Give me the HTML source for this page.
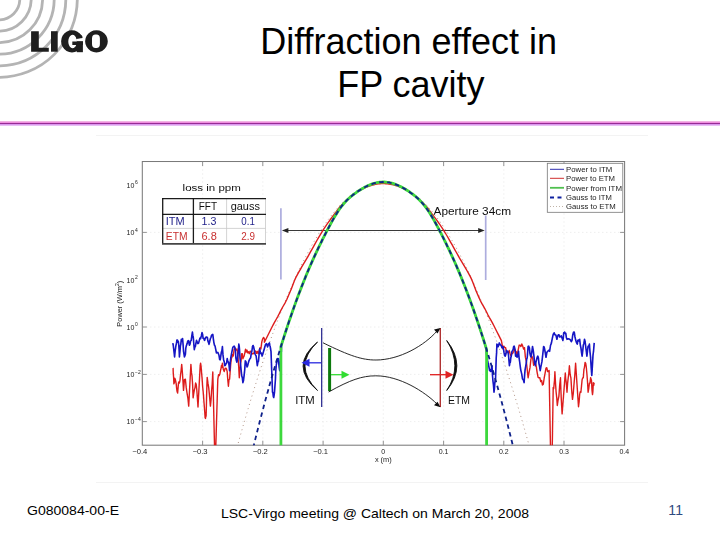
<!DOCTYPE html>
<html><head><meta charset="utf-8">
<style>
html,body{margin:0;padding:0;background:#fff;}
body{width:720px;height:540px;position:relative;overflow:hidden;font-family:"Liberation Sans",sans-serif;}
</style></head><body>
<svg width="720" height="540" viewBox="0 0 720 540" style="position:absolute;left:0;top:0;display:block"><circle cx="-1" cy="-1" r="20.8" fill="none" stroke="#b4b4b4" stroke-width="2.8"/><circle cx="-1" cy="-1" r="32.2" fill="none" stroke="#b4b4b4" stroke-width="2.8"/><circle cx="-1" cy="-1" r="43.6" fill="none" stroke="#b4b4b4" stroke-width="2.8"/><circle cx="-1" cy="-1" r="55.2" fill="none" stroke="#b4b4b4" stroke-width="2.8"/><circle cx="-1" cy="-1" r="66.8" fill="none" stroke="#b4b4b4" stroke-width="2.8"/><circle cx="-1" cy="-1" r="78.3" fill="none" stroke="#b4b4b4" stroke-width="2.8"/><g fill="#1e1e1e"><path d="M31.1,31.2 H38.8 V47.8 H48.8 V51.7 H31.1 Z"/><rect x="51" y="31.2" width="6.7" height="20.5"/><path fill-rule="evenodd" d="M72,30.2 a10.9,11.1 0 1,0 0.001,0 Z M72.6,34.8 a4.3,6.7 0 1,0 0.001,0 Z"/></g><polygon points="76.3,38.7 90,37.2 90,41.5 76.3,41.5" fill="#fff"/><polygon points="78.5,33 81.8,35.4 82.8,37.6 76.3,38.8 75.5,35.5" fill="#1e1e1e"/><rect x="72.3" y="41.5" width="10.6" height="3.5" fill="#1e1e1e"/><rect x="76.8" y="41.5" width="6.1" height="10.7" fill="#1e1e1e"/><path fill="#1e1e1e" fill-rule="evenodd" d="M96.45,30.2 a11.35,11.1 0 1,0 0.001,0 Z M95.5,34.6 h0.9 a3.5,4 0 0,1 3.5,4 v5.4 a3.5,4 0 0,1 -3.5,4 h-0.9 a3.5,4 0 0,1 -3.5,-4 v-5.4 a3.5,4 0 0,1 3.5,-4 Z"/><text x="260.2" y="53.6" font-family="'Liberation Sans', sans-serif" font-size="36" fill="#000">Diffraction effect in</text><text x="337.2" y="96.6" font-family="'Liberation Sans', sans-serif" font-size="36" fill="#000">FP cavity</text><rect x="0" y="121" width="720" height="1" fill="#f2b4e4"/><rect x="0" y="122" width="720" height="1" fill="#ee8ede"/><rect x="0" y="123" width="720" height="1" fill="#962c94"/><rect x="0" y="124" width="720" height="1" fill="#da98ee"/><rect x="0" y="125" width="720" height="1" fill="#e8c0f4"/><rect x="96" y="135" width="552" height="1" fill="#f3f3f3"/><rect x="96" y="482" width="552" height="1" fill="#f3f3f3"/><defs><filter id="soft" x="0" y="0" width="1" height="1"><feGaussianBlur stdDeviation="0.3"/></filter></defs><g id="chart" filter="url(#soft)"><defs><clipPath id="axclip"><rect x="142.3" y="161.5" width="482.3" height="283.7"/></clipPath></defs><g stroke="#dcdcdc" stroke-width="0.7" stroke-dasharray="1 3"><line x1="202.6" y1="161.5" x2="202.6" y2="445.2"/><line x1="262.8" y1="161.5" x2="262.8" y2="445.2"/><line x1="323.1" y1="161.5" x2="323.1" y2="445.2"/><line x1="383.3" y1="161.5" x2="383.3" y2="445.2"/><line x1="443.6" y1="161.5" x2="443.6" y2="445.2"/><line x1="503.8" y1="161.5" x2="503.8" y2="445.2"/><line x1="564.0" y1="161.5" x2="564.0" y2="445.2"/><line x1="142.3" y1="232.4" x2="624.6" y2="232.4"/><line x1="142.3" y1="327.0" x2="624.6" y2="327.0"/><line x1="142.3" y1="374.4" x2="624.6" y2="374.4"/><line x1="142.3" y1="421.6" x2="624.6" y2="421.6"/></g><rect x="142.3" y="161.5" width="482.3" height="283.7" fill="none" stroke="#7a7a7a" stroke-width="1.05"/><g stroke="#888" stroke-width="0.9"><line x1="202.6" y1="445.2" x2="202.6" y2="440.7"/><line x1="202.6" y1="161.5" x2="202.6" y2="166.0"/><line x1="262.8" y1="445.2" x2="262.8" y2="440.7"/><line x1="262.8" y1="161.5" x2="262.8" y2="166.0"/><line x1="323.1" y1="445.2" x2="323.1" y2="440.7"/><line x1="323.1" y1="161.5" x2="323.1" y2="166.0"/><line x1="383.3" y1="445.2" x2="383.3" y2="440.7"/><line x1="383.3" y1="161.5" x2="383.3" y2="166.0"/><line x1="443.6" y1="445.2" x2="443.6" y2="440.7"/><line x1="443.6" y1="161.5" x2="443.6" y2="166.0"/><line x1="503.8" y1="445.2" x2="503.8" y2="440.7"/><line x1="503.8" y1="161.5" x2="503.8" y2="166.0"/><line x1="564.0" y1="445.2" x2="564.0" y2="440.7"/><line x1="564.0" y1="161.5" x2="564.0" y2="166.0"/><line x1="142.3" y1="232.4" x2="146.8" y2="232.4"/><line x1="624.6" y1="232.4" x2="620.1" y2="232.4"/><line x1="142.3" y1="327.0" x2="146.8" y2="327.0"/><line x1="624.6" y1="327.0" x2="620.1" y2="327.0"/><line x1="142.3" y1="374.4" x2="146.8" y2="374.4"/><line x1="624.6" y1="374.4" x2="620.1" y2="374.4"/><line x1="142.3" y1="421.6" x2="146.8" y2="421.6"/><line x1="624.6" y1="421.6" x2="620.1" y2="421.6"/></g><g font-family="'Liberation Sans', sans-serif" font-size="7" fill="#222"><text x="147.3" y="453.8" text-anchor="end" textLength="15" lengthAdjust="spacingAndGlyphs">−0.4</text><text x="207.6" y="453.8" text-anchor="end" textLength="15" lengthAdjust="spacingAndGlyphs">−0.3</text><text x="267.8" y="453.8" text-anchor="end" textLength="15" lengthAdjust="spacingAndGlyphs">−0.2</text><text x="328.1" y="453.8" text-anchor="end" textLength="15" lengthAdjust="spacingAndGlyphs">−0.1</text><text x="383.3" y="453.8" text-anchor="middle">0</text><text x="443.6" y="453.8" text-anchor="middle">0.1</text><text x="503.8" y="453.8" text-anchor="middle">0.2</text><text x="564.0" y="453.8" text-anchor="middle">0.3</text><text x="624.3" y="453.8" text-anchor="middle">0.4</text><text x="126.6" y="188.0">10</text><text x="135" y="184.2" font-size="5">6</text><text x="126.6" y="235.2">10</text><text x="135" y="231.5" font-size="5">4</text><text x="126.6" y="282.6">10</text><text x="135" y="278.9" font-size="5">2</text><text x="126.6" y="329.8">10</text><text x="135" y="326.1" font-size="5">0</text><text x="126.6" y="377.2">10</text><text x="135" y="373.5" font-size="5">−2</text><text x="126.6" y="424.4">10</text><text x="135" y="420.8" font-size="5">−4</text></g><text x="383.3" y="461.8" text-anchor="middle" font-family="'Liberation Sans', sans-serif" font-size="7.4" fill="#222">x (m)</text><text transform="translate(122,303.7) rotate(-90)" text-anchor="middle" font-family="'Liberation Sans', sans-serif" font-size="7.4" fill="#222">Power (W/m<tspan font-size="5" dy="-3">2</tspan><tspan dy="3">)</tspan></text><g stroke="#adadde" stroke-width="1.7"><line x1="280.9" y1="208.3" x2="280.9" y2="279.6"/><line x1="485.7" y1="215.5" x2="485.7" y2="280"/></g><g fill="#222"><line x1="283.9" y1="230.5" x2="482.7" y2="230.5" stroke="#222" stroke-width="0.9"/><path d="M281.9,230.5 l6.5,-2.6 l0,5.2 z"/><path d="M484.7,230.5 l-6.5,-2.6 l0,5.2 z"/></g><text x="433.5" y="214.9" font-family="'Liberation Sans', sans-serif" font-size="11" fill="#111" textLength="77.5" lengthAdjust="spacingAndGlyphs">Aperture 34cm</text><polyline clip-path="url(#axclip)" points="237.1,447.2 238.1,443.6 239.1,440.0 240.1,436.4 241.1,432.9 242.1,429.4 243.1,425.9 244.1,422.4 245.1,419.0 246.1,415.6 247.1,412.2 248.1,408.8 249.1,405.5 250.1,402.1 251.1,398.9 252.1,395.6 253.1,392.3 254.1,389.1 255.1,385.9 256.1,382.8 257.1,379.6 258.1,376.5 259.1,373.4 260.1,370.3 261.1,367.3 262.1,364.3 263.1,361.3 264.1,358.3 265.1,355.4 266.1,352.5 267.1,349.6 268.1,346.7 269.1,343.8 270.1,341.0 271.1,338.2 272.1,335.5 273.1,332.7 274.1,330.0 275.1,327.3 276.1,324.6 277.1,322.0 278.1,319.3 279.1,316.7 280.1,314.2 281.1,311.6 282.1,309.1 283.1,306.6 284.1,304.1 285.1,301.7 286.1,299.3 287.1,296.9 288.1,294.5 289.1,292.1 290.1,289.8 291.1,287.5 292.1,285.2 293.1,283.0 294.1,280.8 295.1,278.6 296.1,276.4 297.1,274.2 298.1,272.1 299.1,270.0 300.1,267.9 301.1,265.9 302.1,263.8 303.1,261.8 304.1,259.9 305.1,257.9 306.1,256.0 307.1,254.1 308.1,252.2 309.1,250.3 310.1,248.5 311.1,246.7 312.1,244.9 313.1,243.2 314.1,241.5 315.1,239.7 316.1,238.1 317.1,236.4 318.1,234.8 319.1,233.2 320.1,231.6 321.1,230.0 322.1,228.5 323.1,227.0 324.1,225.5 325.1,224.1 326.1,222.6 327.1,221.2 328.1,219.8 329.1,218.5 330.1,217.2 331.1,215.8 332.1,214.6 333.1,213.3 334.1,212.1 335.1,210.9 336.1,209.7 337.1,208.5 338.1,207.4 339.1,206.3 340.1,205.2 341.1,204.1 342.1,203.1 343.1,202.1 344.1,201.1 345.1,200.1 346.1,199.2 347.1,198.3 348.1,197.4 349.1,196.5 350.1,195.7 351.1,194.9 352.1,194.1 353.1,193.3 354.1,192.6 355.1,191.9 356.1,191.2 357.1,190.5 358.1,189.9 359.1,189.3 360.1,188.7 361.1,188.1 362.1,187.6 363.1,187.1 364.1,186.6 365.1,186.1 366.1,185.7 367.1,185.3 368.1,184.9 369.1,184.5 370.1,184.2 371.1,183.9 372.1,183.6 373.1,183.3 374.1,183.1 375.1,182.8 376.1,182.7 377.1,182.5 378.1,182.3 379.1,182.2 380.1,182.1 381.1,182.1 382.1,182.0 383.1,182.0 384.1,182.0 385.1,182.0 386.1,182.1 387.1,182.2 388.1,182.3 389.1,182.4 390.1,182.6 391.1,182.7 392.1,183.0 393.1,183.2 394.1,183.4 395.1,183.7 396.1,184.0 397.1,184.3 398.1,184.7 399.1,185.1 400.1,185.5 401.1,185.9 402.1,186.4 403.1,186.8 404.1,187.3 405.1,187.9 406.1,188.4 407.1,189.0 408.1,189.6 409.1,190.2 410.1,190.9 411.1,191.6 412.1,192.3 413.1,193.0 414.1,193.7 415.1,194.5 416.1,195.3 417.1,196.1 418.1,197.0 419.1,197.9 420.1,198.8 421.1,199.7 422.1,200.6 423.1,201.6 424.1,202.6 425.1,203.6 426.1,204.7 427.1,205.7 428.1,206.8 429.1,208.0 430.1,209.1 431.1,210.3 432.1,211.5 433.1,212.7 434.1,213.9 435.1,215.2 436.1,216.5 437.1,217.8 438.1,219.2 439.1,220.5 440.1,221.9 441.1,223.4 442.1,224.8 443.1,226.3 444.1,227.8 445.1,229.3 446.1,230.8 447.1,232.4 448.1,234.0 449.1,235.6 450.1,237.3 451.1,238.9 452.1,240.6 453.1,242.3 454.1,244.1 455.1,245.8 456.1,247.6 457.1,249.5 458.1,251.3 459.1,253.2 460.1,255.1 461.1,257.0 462.1,258.9 463.1,260.9 464.1,262.9 465.1,264.9 466.1,266.9 467.1,269.0 468.1,271.1 469.1,273.2 470.1,275.3 471.1,277.5 472.1,279.7 473.1,281.9 474.1,284.1 475.1,286.4 476.1,288.7 477.1,291.0 478.1,293.3 479.1,295.7 480.1,298.1 481.1,300.5 482.1,302.9 483.1,305.4 484.1,307.9 485.1,310.4 486.1,312.9 487.1,315.5 488.1,318.1 489.1,320.7 490.1,323.3 491.1,326.0 492.1,328.7 493.1,331.4 494.1,334.1 495.1,336.9 496.1,339.7 497.1,342.5 498.1,345.3 499.1,348.2 500.1,351.0 501.1,353.9 502.1,356.9 503.1,359.8 504.1,362.8 505.1,365.8 506.1,368.9 507.1,371.9 508.1,375.0 509.1,378.1 510.1,381.2 511.1,384.4 512.1,387.6 513.1,390.8 514.1,394.0 515.1,397.3 516.1,400.5 517.1,403.8 518.1,407.2 519.1,410.5 520.1,413.9 521.1,417.3 522.1,420.7 523.1,424.2 524.1,427.7 525.1,431.2 526.1,434.7 527.1,438.3 528.1,441.8 529.1,445.4" fill="none" stroke="#a88878" stroke-width="0.9" stroke-dasharray="1 3.4"/><polyline clip-path="url(#axclip)" points="172.8,368.1 173.1,368.4 173.3,373.9 173.6,377.1 173.9,383.9 174.4,382.2 174.8,378.3 175.3,379.3 175.7,381.1 176.2,383.9 176.7,388.9 177.1,391.6 177.6,393.1 178.1,387.8 178.5,382.9 179.0,381.7 179.4,383.0 180.0,380.3 180.6,374.1 181.1,370.5 181.7,364.4 182.1,368.6 182.6,375.8 183.1,383.5 183.5,390.4 184.0,385.1 184.4,379.5 184.9,381.6 185.4,379.3 186.2,387.4 187.0,392.8 187.9,398.2 188.7,406.1 190.9,364.4 191.5,372.9 192.0,375.6 192.6,384.4 193.1,397.8 193.8,393.2 194.4,389.6 195.0,387.8 195.6,383.0 196.2,384.3 196.8,389.8 197.4,398.4 198.0,407.0 200.2,365.4 200.6,363.2 201.1,366.5 201.6,373.0 202.0,377.4 202.7,387.3 203.4,394.1 204.1,403.8 204.8,412.6 205.1,417.7 205.5,418.4 205.8,416.2 206.1,416.3 206.4,405.5 206.7,392.3 206.9,385.4 207.2,377.4 208.0,383.4 208.8,388.4 209.6,397.0 210.4,406.1 211.0,400.4 211.6,390.5 212.2,383.8 212.8,371.9 214.6,449.6 214.9,452.2 215.2,455.0 215.5,453.3 215.7,449.6 217.8,379.3 218.5,374.8 219.2,375.6 219.9,374.0 220.6,370.0 221.0,368.6 221.5,365.4 221.9,367.3 222.4,363.3 223.3,369.3 224.2,371.5 225.1,368.5 226.0,368.1 226.6,369.3 227.2,371.7 227.8,380.0 228.4,386.2 229.0,379.8 229.6,379.1 230.2,371.0 230.8,363.3 231.4,358.3 232.0,357.2 232.6,354.4 233.2,356.1 234.1,349.5 235.0,348.2 235.9,350.2 236.9,348.9 237.5,351.6 238.1,358.7 238.7,366.7 239.3,377.8 239.9,370.0 240.5,363.4 241.1,360.8 241.7,353.7 242.3,353.7 242.9,358.7 243.5,357.1 244.1,356.1 244.8,353.0 245.5,349.3 246.2,352.0 247.0,350.1 247.7,352.8 248.5,351.7 249.3,353.7 250.1,351.3 251.0,351.4 251.9,354.2 252.8,353.4 253.7,353.7 254.6,351.5 255.5,351.0 256.4,353.4 257.3,351.3 258.2,353.7 259.1,350.7 260.0,347.7 260.9,348.9 261.8,341.9 262.7,338.8 263.6,337.4 264.5,339.3 264.4,342.2 265.9,339.2 267.4,336.2 268.9,333.3 270.4,330.3 271.9,327.3 273.4,324.4 274.9,321.6 276.4,319.0 277.9,316.3 279.4,313.4 280.9,310.3 282.4,307.5 283.9,305.0 285.4,302.3 286.9,299.2 288.4,295.8 289.9,292.3 291.4,288.7 292.9,284.7 294.4,280.7 295.9,277.4 297.4,274.6 298.9,271.9 300.4,269.3 301.9,266.7 303.4,264.2 304.9,261.7 306.4,259.2 307.9,256.6 309.4,253.9 310.9,251.2 312.4,248.6 313.9,245.9 315.4,243.2 316.9,240.5 318.4,237.9 319.9,235.4 321.4,232.9 322.9,230.4 324.4,228.1 325.9,225.8 327.4,223.7 328.9,221.6 330.4,219.5 331.9,217.4 333.4,215.4 334.9,213.4 336.4,211.4 337.9,209.3 339.4,207.3 340.9,205.7 342.4,204.2 343.9,202.7 345.4,201.3 346.9,199.9 348.4,198.6 349.9,197.3 351.4,196.1 352.9,195.0 354.4,193.9 355.9,192.8 357.4,191.8 358.9,190.9 360.4,190.0 361.9,189.2 363.4,188.5 364.9,187.8 366.4,187.1 367.9,186.5 369.4,186.0 370.9,185.5 372.4,185.1 373.9,184.7 375.4,184.4 376.9,184.1 378.4,183.9 379.9,183.7 381.4,183.6 382.9,183.6 384.4,183.6 385.9,183.7 387.4,183.8 388.9,184.0 390.4,184.2 391.9,184.5 393.4,184.9 394.9,185.3 396.4,185.7 397.9,186.2 399.4,186.8 400.9,187.4 402.4,188.1 403.9,188.8 405.4,189.6 406.9,190.4 408.4,191.3 409.9,192.3 411.4,193.3 412.9,194.4 414.4,195.5 415.9,196.7 417.4,197.9 418.9,199.2 420.4,200.5 421.9,201.9 423.4,203.4 424.9,204.9 426.4,206.4 427.9,208.2 429.4,210.3 430.9,212.3 432.4,214.3 433.9,216.4 435.4,218.4 436.9,220.4 438.4,222.5 439.9,224.7 441.4,226.9 442.9,229.2 444.4,231.6 445.9,234.0 447.4,236.5 448.9,239.1 450.4,241.8 451.9,244.4 453.4,247.1 454.9,249.8 456.4,252.5 457.9,255.2 459.4,257.8 460.9,260.4 462.4,262.9 463.9,265.4 465.4,267.9 466.9,270.5 468.4,273.1 469.9,275.9 471.4,278.9 472.9,282.6 474.4,286.6 475.9,290.4 477.4,294.0 478.9,297.4 480.4,300.7 481.9,303.6 483.4,306.2 484.9,308.8 486.4,311.7 487.9,314.8 489.4,317.6 490.9,320.2 492.4,322.9 493.9,325.8 495.4,328.7 496.9,331.7 498.4,334.6 499.9,337.6 501.4,340.6 502.9,348.9 503.8,346.1 504.7,347.5 505.6,347.6 506.5,352.5 507.4,351.9 508.3,352.9 509.2,350.5 510.1,353.7 511.0,355.9 511.9,353.6 512.8,353.1 513.7,351.3 514.6,349.0 515.5,350.9 516.4,352.0 517.3,356.1 518.2,349.8 519.1,345.3 520.0,345.1 520.9,346.5 521.8,344.0 522.7,346.1 523.6,349.0 524.5,347.7 525.4,357.4 526.3,361.2 527.2,369.3 528.1,377.8 529.0,372.7 530.0,367.7 530.9,359.4 531.8,356.1 532.7,358.2 533.6,365.2 534.5,363.3 535.4,363.3 536.3,366.7 537.2,372.8 538.1,377.3 539.0,377.8 539.8,377.6 540.7,381.6 541.6,380.4 542.4,385.0 543.3,384.2 544.2,378.0 545.1,373.2 546.0,368.1 546.8,367.7 547.6,371.5 548.4,371.3 549.1,370.6 550.8,464.4 551.1,458.9 551.4,459.1 551.7,461.9 552.0,464.4 553.2,387.4 553.7,388.8 554.1,384.4 554.5,380.2 554.9,371.8 555.5,383.0 556.1,392.0 556.7,397.3 557.3,405.5 558.1,400.0 558.9,396.1 559.7,384.9 560.5,377.8 560.9,390.2 561.3,399.4 561.7,406.8 562.1,413.9 565.3,373.0 565.7,378.8 566.1,381.3 566.5,385.7 567.0,392.2 567.6,383.3 568.2,377.8 568.8,373.6 569.4,365.7 570.2,374.7 570.9,377.8 571.7,390.8 572.5,399.4 573.3,393.1 574.1,383.0 574.8,375.1 575.6,363.3 578.5,406.7 579.1,401.9 579.7,394.2 580.3,391.6 580.9,392.2 581.5,386.1 582.1,379.8 582.7,377.9 583.3,377.8 583.9,369.6 584.5,367.1 585.1,362.4 585.7,363.3 586.3,367.2 586.9,373.7 587.5,381.5 588.1,392.2 588.7,388.8 589.4,383.1 590.0,383.2 590.6,377.8 591.0,379.0 591.5,380.8 592.0,390.4 592.5,394.6 592.9,391.5 593.3,382.6 593.7,385.3 594.2,382.6" fill="none" stroke="#dd1c1c" stroke-width="1.4" stroke-linejoin="round"/><polyline clip-path="url(#axclip)" points="172.8,343.1 173.2,345.0 173.7,349.0 174.2,353.4 174.6,357.0 175.1,351.5 175.6,347.9 176.0,345.2 176.5,343.1 176.9,340.1 177.4,340.0 177.9,342.3 178.3,341.3 178.6,343.4 178.9,346.7 179.2,351.7 179.4,357.0 179.9,351.8 180.4,345.9 180.8,344.3 181.3,339.4 181.6,339.4 181.9,340.0 182.3,340.9 182.6,338.5 183.1,344.8 183.5,351.0 184.0,354.1 184.4,357.0 184.9,355.7 185.4,354.2 185.8,348.1 186.3,345.9 186.8,344.4 187.2,343.4 187.7,341.1 188.1,341.3 188.6,340.6 189.1,343.9 189.5,345.2 190.0,344.1 190.6,341.0 191.2,340.5 191.8,336.1 192.4,332.0 192.9,335.7 193.3,337.5 193.8,343.8 194.3,349.6 194.8,347.3 195.4,346.3 195.9,343.4 196.5,340.4 197.2,342.2 197.9,343.6 198.6,343.1 199.3,340.4 200.0,338.0 200.6,338.7 201.3,335.9 202.0,332.6 202.6,334.4 203.1,338.3 203.7,338.3 204.3,340.0 204.7,340.3 205.2,338.3 205.6,337.7 206.1,337.0 206.7,337.4 207.3,337.2 207.9,341.0 208.5,342.6 209.0,344.4 209.4,342.9 209.9,340.5 210.4,338.5 211.0,337.3 211.6,335.1 212.2,334.8 212.8,334.4 213.3,338.6 213.9,342.6 214.4,345.0 215.0,345.9 215.7,349.2 216.4,352.9 217.1,352.8 217.8,352.4 218.4,353.8 219.0,355.3 219.6,359.3 220.2,359.8 220.7,356.9 221.3,352.4 221.9,350.9 222.4,346.5 223.0,354.9 223.6,359.7 224.2,361.7 224.8,365.7 225.4,365.1 226.0,363.9 226.6,363.0 227.2,358.5 227.8,361.6 228.4,361.9 229.0,364.8 229.6,370.6 230.2,362.7 230.8,357.9 231.4,354.4 232.0,351.3 232.8,347.3 233.5,346.7 234.2,346.2 234.9,347.7 235.4,351.2 235.9,358.1 236.4,360.8 236.9,362.1 237.3,360.0 237.8,355.6 238.3,351.4 238.8,344.1 239.2,346.1 239.6,350.9 240.0,358.0 240.5,363.3 241.1,370.1 241.7,375.6 242.3,377.7 242.9,382.6 243.5,380.6 244.1,375.6 244.7,370.1 245.3,360.9 245.9,361.6 246.5,364.6 247.1,367.0 247.7,365.7 248.3,362.9 248.9,360.9 249.5,359.7 250.1,358.5 250.7,357.7 251.3,352.9 251.9,351.0 252.5,346.5 253.1,345.5 253.7,347.1 254.3,350.1 254.9,353.7 255.5,354.8 256.1,355.8 256.7,360.1 257.3,365.7 257.9,362.2 258.5,361.1 259.1,354.3 259.7,348.9 260.3,352.2 260.9,353.7 261.5,353.0 262.1,356.1 263.0,353.4 263.9,350.3 264.8,347.0 265.7,344.1 266.6,343.6 267.5,346.9 268.4,344.2 269.4,342.9 269.8,345.2 270.2,346.6 270.6,349.0 271.0,351.3 272.5,392.2 272.9,392.6 273.3,396.4 273.7,397.5 274.2,394.6 274.6,391.1 275.0,385.2 275.4,379.8 275.8,370.6 276.3,364.8 276.8,362.2 277.3,359.4 277.8,358.5 278.3,358.7 278.7,362.6 279.2,367.7 279.7,370.6 280.1,364.0 280.5,359.3 281.0,353.8 281.4,351.3 281.5,344.7 283.0,339.9 284.5,335.3 286.0,330.6 287.5,326.1 289.0,321.6 290.5,317.2 292.0,312.9 293.5,308.6 295.0,304.4 296.5,300.3 298.0,296.2 299.5,292.3 301.0,288.3 302.5,284.5 304.0,280.7 305.5,277.0 307.0,273.4 308.5,269.8 310.0,266.3 311.5,262.9 313.0,259.5 314.5,256.2 316.0,253.0 317.5,249.8 319.0,246.7 320.5,243.6 322.0,240.5 323.5,237.5 325.0,234.6 326.5,231.7 328.0,228.8 329.5,226.0 331.0,223.2 332.5,220.5 334.0,217.9 335.5,215.3 337.0,212.9 338.5,210.6 340.0,208.5 341.5,206.4 343.0,204.5 344.5,202.8 346.0,201.2 347.5,199.7 349.0,198.3 350.5,196.9 352.0,195.7 353.5,194.5 355.0,193.4 356.5,192.4 358.0,191.3 359.5,190.3 361.0,189.4 362.5,188.5 364.0,187.6 365.5,186.8 367.0,186.1 368.5,185.4 370.0,184.7 371.5,184.2 373.0,183.6 374.5,183.2 376.0,182.8 377.5,182.5 379.0,182.3 380.5,182.1 382.0,182.0 383.5,182.0 385.0,182.0 386.5,182.2 388.0,182.3 389.5,182.6 391.0,182.9 392.5,183.3 394.0,183.8 395.5,184.3 397.0,184.9 398.5,185.6 400.0,186.3 401.5,187.0 403.0,187.9 404.5,188.7 406.0,189.6 407.5,190.6 409.0,191.6 410.5,192.6 412.0,193.7 413.5,194.8 415.0,196.0 416.5,197.3 418.0,198.6 419.5,200.0 421.0,201.6 422.5,203.2 424.0,205.0 425.5,207.0 427.0,209.0 428.5,211.2 430.0,213.6 431.5,216.0 433.0,218.6 434.5,221.2 436.0,223.9 437.5,226.7 439.0,229.6 440.5,232.4 442.0,235.4 443.5,238.3 445.0,241.4 446.5,244.4 448.0,247.5 449.5,250.7 451.0,253.9 452.5,257.1 454.0,260.4 455.5,263.8 457.0,267.3 458.5,270.8 460.0,274.4 461.5,278.0 463.0,281.7 464.5,285.5 466.0,289.4 467.5,293.3 469.0,297.3 470.5,301.4 472.0,305.5 473.5,309.7 475.0,314.0 476.5,318.4 478.0,322.8 479.5,327.3 481.0,331.9 482.5,336.5 484.0,341.2 485.5,346.0 487.2,358.5 487.8,362.1 488.4,363.9 489.0,367.4 489.6,370.6 490.2,369.8 490.8,371.4 491.4,368.5 492.0,365.7 492.5,375.4 493.0,381.5 493.5,385.3 494.0,392.2 494.4,388.9 494.8,383.1 495.2,380.1 495.6,377.8 495.9,367.9 496.2,358.1 496.6,352.4 496.9,344.1 497.5,345.0 498.1,346.8 498.7,344.9 499.3,342.9 500.2,344.8 501.1,345.2 502.0,347.8 502.9,346.5 503.5,349.1 504.1,352.9 504.7,355.8 505.3,356.1 505.9,354.1 506.5,350.4 507.1,351.4 507.7,351.3 508.1,352.8 508.5,355.0 508.9,359.7 509.4,365.7 509.9,362.3 510.3,362.4 510.8,357.8 511.3,356.1 511.9,351.7 512.5,350.7 513.1,349.6 513.7,346.5 514.2,346.2 514.7,347.9 515.1,350.6 515.6,356.1 516.4,355.0 517.1,357.2 517.8,355.6 518.5,351.3 519.1,358.1 519.7,362.0 520.3,367.0 520.9,370.6 521.7,373.9 522.5,379.0 523.3,379.8 524.1,382.6 524.6,375.3 525.1,369.6 525.7,366.3 526.2,363.3 526.7,359.2 527.2,357.8 527.7,351.9 528.1,346.5 528.7,346.2 529.4,347.8 530.0,353.8 530.6,356.1 531.0,357.0 531.5,354.2 532.0,350.5 532.5,346.5 533.2,350.1 533.9,355.7 534.6,362.6 535.4,365.7 536.0,361.9 536.6,359.6 537.2,357.3 537.8,356.1 538.4,357.9 539.0,363.8 539.6,366.7 540.2,370.6 541.0,366.1 541.9,361.9 542.8,354.2 543.6,346.5 544.2,347.1 544.8,350.0 545.4,353.7 546.0,357.3 546.9,352.3 547.8,351.3 548.7,350.4 549.6,351.3 550.5,345.5 551.4,343.1 552.3,338.4 553.2,334.4 554.1,332.8 555.0,334.8 555.9,335.1 556.9,339.3 557.6,336.3 558.3,334.9 559.0,334.8 559.7,336.9 560.5,336.7 561.3,335.9 562.1,338.3 562.9,340.5 563.3,337.6 563.7,332.7 564.1,333.0 564.6,332.0 565.2,333.5 565.8,333.3 566.4,337.8 567.0,339.3 568.0,338.7 569.1,339.0 570.2,339.6 571.3,341.7 572.0,340.4 572.7,335.3 573.5,332.3 574.2,332.0 575.0,337.0 575.7,340.1 576.5,342.7 577.3,344.1 577.9,340.2 578.5,340.0 579.1,341.0 579.7,339.3 580.3,345.0 580.9,347.7 581.5,352.4 582.1,356.1 582.7,351.5 583.3,345.1 583.9,343.4 584.5,339.3 585.1,341.4 585.7,346.5 586.3,351.4 586.9,356.1 587.5,351.2 588.1,346.2 588.7,346.5 589.4,344.1 590.0,352.1 590.6,357.7 591.2,367.9 591.8,375.4 592.4,365.6 593.0,355.2 593.6,350.6 594.2,342.9" fill="none" stroke="#1212c4" stroke-width="1.6" stroke-linejoin="round"/><polyline clip-path="url(#axclip)" points="280.9,448.2 280.9,346.6 282.4,341.8 283.9,337.1 285.4,332.5 286.9,327.9 288.4,323.4 289.9,319.0 291.4,314.6 292.9,310.3 294.4,306.1 295.9,301.9 297.4,297.8 298.9,293.8 300.4,289.9 301.9,286.0 303.4,282.2 304.9,278.5 306.4,274.8 307.9,271.2 309.4,267.7 310.9,264.3 312.4,260.9 313.9,257.6 315.4,254.3 316.9,251.1 318.4,247.9 319.9,244.8 321.4,241.8 322.9,238.7 324.4,235.8 325.9,232.8 327.4,229.9 328.9,227.1 330.4,224.3 331.9,221.6 333.4,218.9 334.9,216.3 336.4,213.9 337.9,211.5 339.4,209.3 340.9,207.2 342.4,205.3 343.9,203.5 345.4,201.8 346.9,200.2 348.4,198.8 349.9,197.5 351.4,196.2 352.9,195.0 354.4,193.9 355.9,192.8 357.4,191.7 358.9,190.7 360.4,189.8 361.9,188.8 363.4,188.0 364.9,187.1 366.4,186.4 367.9,185.6 369.4,185.0 370.9,184.4 372.4,183.8 373.9,183.4 375.4,183.0 376.9,182.6 378.4,182.4 379.9,182.2 381.4,182.1 382.9,182.0 384.4,182.0 385.9,182.1 387.4,182.3 388.9,182.5 390.4,182.8 391.9,183.2 393.4,183.6 394.9,184.1 396.4,184.7 397.9,185.3 399.4,186.0 400.9,186.7 402.4,187.5 403.9,188.4 405.4,189.3 406.9,190.2 408.4,191.2 409.9,192.2 411.4,193.3 412.9,194.4 414.4,195.5 415.9,196.8 417.4,198.1 418.9,199.5 420.4,201.0 421.9,202.6 423.4,204.3 424.9,206.2 426.4,208.2 427.9,210.3 429.4,212.6 430.9,215.0 432.4,217.5 433.9,220.1 435.4,222.8 436.9,225.6 438.4,228.4 439.9,231.3 441.4,234.2 442.9,237.2 444.4,240.1 445.9,243.2 447.4,246.3 448.9,249.4 450.4,252.6 451.9,255.8 453.4,259.1 454.9,262.5 456.4,265.9 457.9,269.4 459.4,272.9 460.9,276.5 462.4,280.2 463.9,284.0 465.4,287.8 466.9,291.7 468.4,295.7 469.9,299.7 471.4,303.9 472.9,308.0 474.4,312.3 475.9,316.6 477.4,321.0 478.9,325.5 480.4,330.0 481.9,334.6 483.4,339.3 484.9,344.1 486.4,348.9 486.6,349.5 486.6,448.2" fill="none" stroke="#3cd83c" stroke-width="2.8" stroke-linejoin="round"/><polyline clip-path="url(#axclip)" points="251.3,455.6 252.0,452.7 252.7,449.8 253.4,446.9 254.1,444.1 254.8,441.2 255.5,438.4 256.2,435.6 256.9,432.8 257.6,430.1 258.3,427.3 259.0,424.6 259.7,421.8 260.4,419.1 261.1,416.4 261.8,413.8 262.5,411.1 263.2,408.5 263.9,405.8 264.6,403.2 265.3,400.6 266.0,398.0 266.7,395.5 267.4,392.9 268.1,390.4 268.8,387.8 269.5,385.3 270.2,382.8 270.9,380.4 271.6,377.9 272.3,375.4 273.0,373.0 273.7,370.6 274.4,368.2 275.1,365.8 275.8,363.4 276.5,361.1 277.2,358.7 277.9,356.4 278.6,354.1 279.3,351.8 280.0,349.5 280.7,347.3 281.4,345.0 282.1,342.8 282.8,340.6 283.5,338.4 284.2,336.2 284.9,334.0 285.6,331.9 286.3,329.7 287.0,327.6 287.7,325.5 288.4,323.4 289.1,321.3 289.8,319.3 290.5,317.2 291.2,315.2 291.9,313.2 292.6,311.2 293.3,309.2 294.0,307.2 294.7,305.2 295.4,303.3 296.1,301.4 296.8,299.5 297.5,297.6 298.2,295.7 298.9,293.8 299.6,292.0 300.3,290.2 301.0,288.3 301.7,286.5 302.4,284.8 303.1,283.0 303.8,281.2 304.5,279.5 305.2,277.8 305.9,276.0 306.6,274.4 307.3,272.7 308.0,271.0 308.7,269.4 309.4,267.7 310.1,266.1 310.8,264.5 311.5,262.9 312.2,261.3 312.9,259.8 313.6,258.2 314.3,256.7 315.0,255.2 315.7,253.6 316.4,252.1 317.1,250.7 317.8,249.2 318.5,247.7 319.2,246.3 319.9,244.8 320.6,243.4 321.3,242.0 322.0,240.5 322.7,239.1 323.4,237.7 324.1,236.4 324.8,235.0 325.5,233.6 326.2,232.3 326.9,230.9 327.6,229.6 328.3,228.2 329.0,226.9 329.7,225.6 330.4,224.3 331.1,223.0 331.8,221.7 332.5,220.5 333.2,219.3 333.9,218.0 334.6,216.8 335.3,215.7 336.0,214.5 336.7,213.4 337.4,212.3 338.1,211.2 338.8,210.2 339.5,209.2 340.2,208.2 340.9,207.2 341.6,206.3 342.3,205.4 343.0,204.5 343.7,203.7 344.4,202.9 345.1,202.1 345.8,201.4 346.5,200.6 347.2,199.9 347.9,199.3 348.6,198.6 349.3,198.0 350.0,197.4 350.7,196.8 351.4,196.2 352.1,195.6 352.8,195.1 353.5,194.5 354.2,194.0 354.9,193.5 355.6,193.0 356.3,192.5 357.0,192.0 357.7,191.5 358.4,191.1 359.1,190.6 359.8,190.1 360.5,189.7 361.2,189.3 361.9,188.8 362.6,188.4 363.3,188.0 364.0,187.6 364.7,187.2 365.4,186.9 366.1,186.5 366.8,186.2 367.5,185.8 368.2,185.5 368.9,185.2 369.6,184.9 370.3,184.6 371.0,184.3 371.7,184.1 372.4,183.8 373.1,183.6 373.8,183.4 374.5,183.2 375.2,183.0 375.9,182.9 376.6,182.7 377.3,182.6 378.0,182.4 378.7,182.3 379.4,182.2 380.1,182.2 380.8,182.1 381.5,182.1 382.2,182.0 382.9,182.0 383.6,182.0 384.3,182.0 385.0,182.0 385.7,182.1 386.4,182.1 387.1,182.2 387.8,182.3 388.5,182.4 389.2,182.5 389.9,182.7 390.6,182.8 391.3,183.0 392.0,183.2 392.7,183.4 393.4,183.6 394.1,183.8 394.8,184.1 395.5,184.3 396.2,184.6 396.9,184.9 397.6,185.2 398.3,185.5 399.0,185.8 399.7,186.1 400.4,186.5 401.1,186.8 401.8,187.2 402.5,187.6 403.2,188.0 403.9,188.4 404.6,188.8 405.3,189.2 406.0,189.6 406.7,190.1 407.4,190.5 408.1,191.0 408.8,191.5 409.5,191.9 410.2,192.4 410.9,192.9 411.6,193.4 412.3,193.9 413.0,194.5 413.7,195.0 414.4,195.5 415.1,196.1 415.8,196.7 416.5,197.3 417.2,197.9 417.9,198.5 418.6,199.2 419.3,199.9 420.0,200.5 420.7,201.3 421.4,202.0 422.1,202.8 422.8,203.6 423.5,204.4 424.2,205.3 424.9,206.2 425.6,207.1 426.3,208.0 427.0,209.0 427.7,210.0 428.4,211.1 429.1,212.1 429.8,213.2 430.5,214.4 431.2,215.5 431.9,216.7 432.6,217.9 433.3,219.1 434.0,220.3 434.7,221.6 435.4,222.8 436.1,224.1 436.8,225.4 437.5,226.7 438.2,228.0 438.9,229.4 439.6,230.7 440.3,232.1 441.0,233.4 441.7,234.8 442.4,236.2 443.1,237.5 443.8,238.9 444.5,240.3 445.2,241.8 445.9,243.2 446.6,244.6 447.3,246.1 448.0,247.5 448.7,249.0 449.4,250.4 450.1,251.9 450.8,253.4 451.5,254.9 452.2,256.5 452.9,258.0 453.6,259.5 454.3,261.1 455.0,262.7 455.7,264.3 456.4,265.9 457.1,267.5 457.8,269.1 458.5,270.8 459.2,272.4 459.9,274.1 460.6,275.8 461.3,277.5 462.0,279.2 462.7,281.0 463.4,282.7 464.1,284.5 464.8,286.3 465.5,288.1 466.2,289.9 466.9,291.7 467.6,293.6 468.3,295.4 469.0,297.3 469.7,299.2 470.4,301.1 471.1,303.0 471.8,305.0 472.5,306.9 473.2,308.9 473.9,310.9 474.6,312.9 475.3,314.9 476.0,316.9 476.7,319.0 477.4,321.0 478.1,323.1 478.8,325.2 479.5,327.3 480.2,329.4 480.9,331.6 481.6,333.7 482.3,335.9 483.0,338.1 483.7,340.3 484.4,342.5 485.1,344.7 485.8,346.9 486.5,349.2 487.2,351.5 487.9,353.8 488.6,356.1 489.3,358.4 490.0,360.7 490.7,363.1 491.4,365.5 492.1,367.8 492.8,370.2 493.5,372.7 494.2,375.1 494.9,377.5 495.6,380.0 496.3,382.5 497.0,385.0 497.7,387.5 498.4,390.0 499.1,392.5 499.8,395.1 500.5,397.7 501.2,400.2 501.9,402.8 502.6,405.5 503.3,408.1 504.0,410.7 504.7,413.4 505.4,416.1 506.1,418.8 506.8,421.5 507.5,424.2 508.2,426.9 508.9,429.7 509.6,432.4 510.3,435.2 511.0,438.0 511.7,440.8 512.4,443.7 513.1,446.5 513.8,449.4 514.5,452.3 515.2,455.1" fill="none" stroke="#10208a" stroke-width="1.8" stroke-dasharray="4.5 3.5"/><line x1="321.7" y1="328" x2="321.7" y2="407" stroke="#20208a" stroke-width="1.2"/><line x1="440.3" y1="328" x2="440.3" y2="407" stroke="#b03030" stroke-width="1.4"/><path d="M317.5,342 Q288.7,366 317.5,390.5 Q292.5,366 317.5,342 Z" fill="#111" stroke="#111" stroke-width="0.9"/><path d="M446.7,340.5 Q467,366 446.7,390.5 Q463,366 446.7,340.5 Z" fill="#111" stroke="#111" stroke-width="0.9"/><line x1="329.6" y1="348" x2="329.6" y2="391" stroke="#0a7a0a" stroke-width="3"/><line x1="321" y1="362.8" x2="307" y2="362.8" stroke="#2a2ae0" stroke-width="1.3"/><path d="M301.5,362.8 l8,-4 l0,8 z" fill="#2a2ae0"/><line x1="331" y1="374.7" x2="343" y2="374.7" stroke="#33dd33" stroke-width="1.3"/><path d="M349.5,374.7 l-8,-4 l0,8 z" fill="#33dd33"/><line x1="430" y1="374.7" x2="447" y2="374.7" stroke="#e02020" stroke-width="1.3"/><path d="M453.5,374.7 l-8,-4 l0,8 z" fill="#e02020"/><path d="M323,342.8 C350,356 362,360 375.8,360 C400,360 425,345 437,331" fill="none" stroke="#111" stroke-width="0.9"/><path d="M440.5,328 l-6.5,1.5 l3.5,4 z" fill="#111"/><path d="M328.6,392 C350,380 362,375.8 375.8,375.8 C400,375.8 425,392 437,404" fill="none" stroke="#111" stroke-width="0.9"/><path d="M440.5,407.2 l-3,-5.5 l-3.5,3.5 z" fill="#111"/><text x="295.2" y="404.3" font-family="'Liberation Sans', sans-serif" font-size="11" fill="#111" textLength="19.5" lengthAdjust="spacingAndGlyphs">ITM</text><text x="448" y="404.3" font-family="'Liberation Sans', sans-serif" font-size="11" fill="#111" textLength="22" lengthAdjust="spacingAndGlyphs">ETM</text><rect x="547.3" y="163.3" width="75.5" height="49" fill="#fff" stroke="#777" stroke-width="0.8"/><line x1="550" y1="169.3" x2="564" y2="169.3" stroke="#3030b0" stroke-width="1"/><text x="566" y="172.1" font-family="'Liberation Sans', sans-serif" font-size="7.6" fill="#222" textLength="46.3" lengthAdjust="spacingAndGlyphs">Power to ITM</text><line x1="550" y1="178.3" x2="564" y2="178.3" stroke="#d03030" stroke-width="1"/><text x="566" y="181.1" font-family="'Liberation Sans', sans-serif" font-size="7.6" fill="#222" textLength="49" lengthAdjust="spacingAndGlyphs">Power to ETM</text><line x1="550" y1="187.8" x2="564" y2="187.8" stroke="#50c050" stroke-width="1.8"/><text x="566" y="190.6" font-family="'Liberation Sans', sans-serif" font-size="7.6" fill="#222" textLength="56" lengthAdjust="spacingAndGlyphs">Power from ITM</text><line x1="550" y1="197.4" x2="564" y2="197.4" stroke="#1020a0" stroke-width="2" stroke-dasharray="4 3.5"/><text x="566" y="200.2" font-family="'Liberation Sans', sans-serif" font-size="7.6" fill="#222" textLength="45.9" lengthAdjust="spacingAndGlyphs">Gauss to ITM</text><line x1="550" y1="206.5" x2="564" y2="206.5" stroke="#b0a090" stroke-width="0.8" stroke-dasharray="1 2"/><text x="566" y="209.3" font-family="'Liberation Sans', sans-serif" font-size="7.6" fill="#222" textLength="49.6" lengthAdjust="spacingAndGlyphs">Gauss to ETM</text><text x="182.6" y="190.6" font-family="'Liberation Sans', sans-serif" font-size="9.6" fill="#111" textLength="58.3" lengthAdjust="spacingAndGlyphs">loss in ppm</text><rect x="162.7" y="198.6" width="102.8" height="45.3" fill="#fff"/><g stroke="#c8c8c8" stroke-width="0.8"><line x1="226.6" y1="198.6" x2="226.6" y2="243.9"/><line x1="162.7" y1="228.4" x2="265.5" y2="228.4"/><line x1="265.5" y1="198.6" x2="265.5" y2="243.9"/></g><g stroke="#1a1a1a" stroke-width="1.3"><line x1="162" y1="198.6" x2="266" y2="198.6"/><line x1="162" y1="214.4" x2="266" y2="214.4"/><line x1="162.7" y1="198.6" x2="162.7" y2="243.9"/><line x1="193.4" y1="198.6" x2="193.4" y2="243.9"/></g><line x1="162" y1="243.9" x2="266" y2="243.9" stroke="#444" stroke-width="1.8"/><text x="198.7" y="210" font-family="'Liberation Sans', sans-serif" font-size="10" lengthAdjust="spacingAndGlyphs" fill="#111" textLength="18.3">FFT</text><text x="230.7" y="210" font-family="'Liberation Sans', sans-serif" font-size="10" lengthAdjust="spacingAndGlyphs" fill="#111" textLength="29.2">gauss</text><text x="165.8" y="224.6" font-family="'Liberation Sans', sans-serif" font-size="10" lengthAdjust="spacingAndGlyphs" fill="#22228a" textLength="18.9">ITM</text><text x="201.5" y="224.6" font-family="'Liberation Sans', sans-serif" font-size="10" lengthAdjust="spacingAndGlyphs" fill="#22228a" textLength="14.8">1.3</text><text x="241.3" y="224.6" font-family="'Liberation Sans', sans-serif" font-size="10" lengthAdjust="spacingAndGlyphs" fill="#22228a" textLength="13.5">0.1</text><text x="165.8" y="240" font-family="'Liberation Sans', sans-serif" font-size="10" lengthAdjust="spacingAndGlyphs" fill="#c83030" textLength="21.7">ETM</text><text x="201.5" y="240" font-family="'Liberation Sans', sans-serif" font-size="10" lengthAdjust="spacingAndGlyphs" fill="#c83030" textLength="15.3">6.8</text><text x="241.3" y="240" font-family="'Liberation Sans', sans-serif" font-size="10" lengthAdjust="spacingAndGlyphs" fill="#c83030" textLength="13.7">2.9</text></g><text x="27" y="514.8" font-family="'Liberation Sans', sans-serif" font-size="13.6" fill="#000" textLength="92" lengthAdjust="spacingAndGlyphs">G080084-00-E</text><text x="221" y="518" font-family="'Liberation Sans', sans-serif" font-size="13.6" fill="#000" textLength="308" lengthAdjust="spacingAndGlyphs">LSC-Virgo meeting @ Caltech on March 20, 2008</text><text x="668.2" y="514.8" font-family="'Liberation Sans', sans-serif" font-size="14" fill="#2f4a80" textLength="14.8" lengthAdjust="spacing">11</text></svg>
</body></html>
